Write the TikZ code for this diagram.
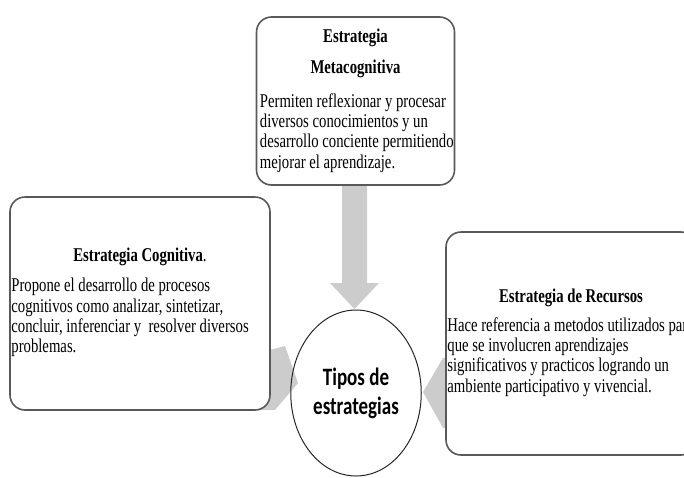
\documentclass[tikz,border=0pt]{standalone}
\usepackage{fontspec}
\setmainfont{Liberation Serif}[FakeStretch=0.755]
\newfontfamily\calibri{Carlito}[FakeStretch=0.76]
\usetikzlibrary{positioning,shapes.geometric}

\begin{document}
\begin{tikzpicture}[x=1pt,y=-1pt,
  caja/.style={draw=gray!70!black,line width=1.6pt,rounded corners=15pt,fill=white,inner sep=0pt},
  titulo/.style={font=\fontsize{19.5}{31}\selectfont\bfseries,align=center,inner sep=0pt,anchor=north},
  cuerpo/.style={font=\fontsize{19.5}{20.3}\selectfont,align=left,inner sep=0pt,anchor=north west},
  flecha/.style={fill=gray!40,draw=none}]

\clip (0,0) rectangle (684,477);

% flechas
\fill[flecha] (342,186) -- (367,186) -- (367,283) -- (379,283) -- (354.5,309)
   -- (330,283) -- (342,283) -- cycle;
\fill[flecha] (250,355) -- (285,346) -- (298,383) -- (275,410) -- (250,410) -- cycle;
\fill[flecha] (470,360) -- (443,358) -- (423,392) -- (443,428) -- (470,428) -- cycle;

% cajas
\node[caja,minimum width=198pt,minimum height=168pt] (meta) at (355.5,101) {};
\node[caja,minimum width=260pt,minimum height=213pt] (cog)  at (140,303.5) {};
\node[caja,minimum width=250pt,minimum height=223pt] (rec)  at (571,343.5) {};

\node[titulo] (tMeta) at ([yshift=-13pt]meta.north) {Estrategia\\Metacognitiva};
\node[cuerpo] (bMeta) at ([xshift=4pt,yshift=-77pt]meta.north west)
  {Permiten reflexionar y procesar\\diversos conocimientos y un\\desarrollo conciente permitiendo\\mejorar el aprendizaje.};

\node[titulo] (tCog) at ([yshift=-52pt]cog.north) {Estrategia Cognitiva\textmd{.}};
\node[cuerpo] (bCog) at ([xshift=2pt,yshift=-82pt]cog.north west)
  {Propone el desarrollo de procesos\\cognitivos como analizar, sintetizar,\\concluir, inferenciar y\ \ resolver diversos\\problemas.};

\node[titulo] (tRec) at ([yshift=-58pt]rec.north) {Estrategia de Recursos};
\node[cuerpo] (bRec) at ([xshift=2pt,yshift=-86pt]rec.north west)
  {Hace referencia a metodos utilizados para\\que se involucren aprendizajes\\significativos y practicos logrando un\\ambiente participativo y vivencial.};

% centro
\node[ellipse,draw=gray!30!black,line width=1pt,minimum width=124pt,minimum height=166pt,
  font=\calibri\fontsize{25}{29}\selectfont\bfseries,align=center] (tipos) at (356,393)
  {Tipos de\\estrategias};
\end{tikzpicture}
\end{document}
